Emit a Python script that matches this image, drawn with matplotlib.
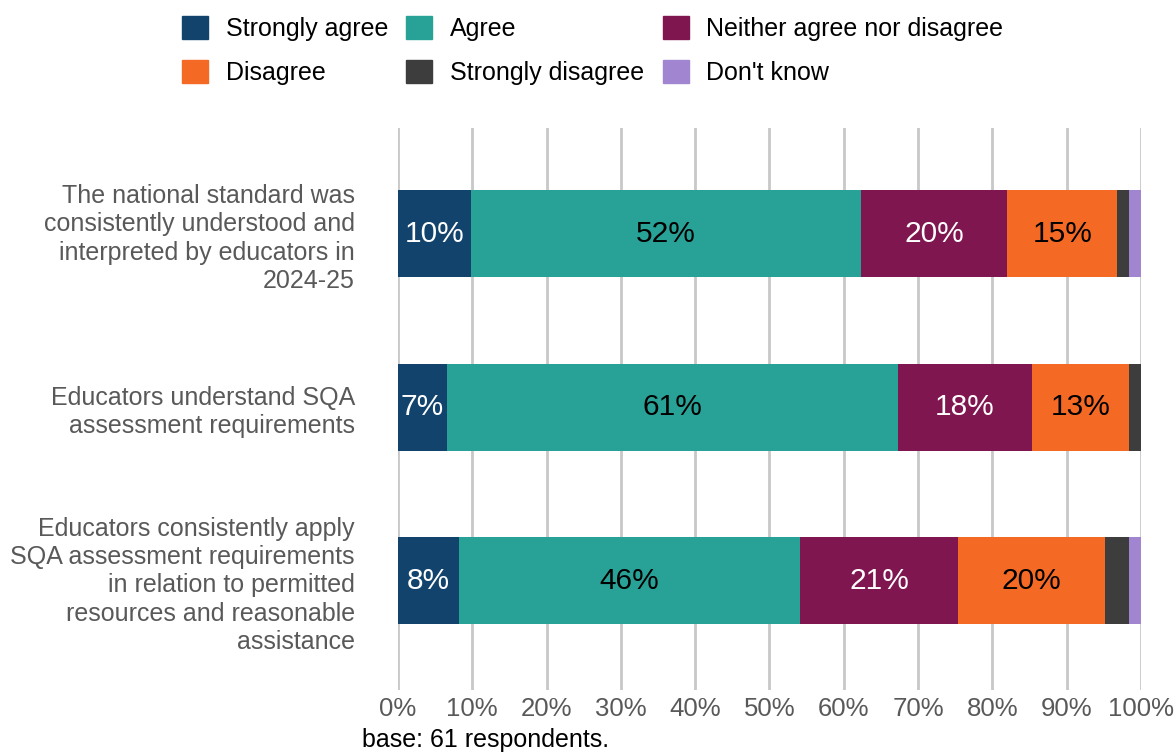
import matplotlib
matplotlib.use("Agg")
import matplotlib.pyplot as plt
import matplotlib.patches as mpatches
import numpy as np

plt.rcParams['font.family'] = ['Liberation Sans', 'DejaVu Sans']

statements = [
    'The national standard was\nconsistently understood and\ninterpreted by educators in\n2024-25',
    'Educators understand SQA\nassessment requirements',
    'Educators consistently apply\nSQA assessment requirements\nin relation to permitted\nresources and reasonable\nassistance',
]
responses = ['Strongly agree', 'Agree', 'Neither agree nor disagree',
             'Disagree', 'Strongly disagree', "Don't know"]
colors = ['#12436D', '#28A197', '#801650', '#F46A25', '#3D3D3D', '#A285D1']
label_colors = ['white', 'black', 'white', 'black', 'white', 'white']

# percentages of 61 respondents, one list per response category
strongly_agree = [9.8, 6.6, 8.2]
agree = [52.5, 60.7, 45.9]
neither = [19.7, 18.0, 21.3]
disagree = [14.8, 13.1, 19.7]
strongly_disagree = [1.6, 1.6, 3.3]
dont_know = [1.6, 0.0, 1.6]
series = [strongly_agree, agree, neither, disagree, strongly_disagree, dont_know]

fig = plt.figure(figsize=(11.76, 7.55), dpi=100)
ax = fig.add_axes([0.3384, 0.0861, 0.6318, 0.7444])

y = np.arange(len(statements))
left = np.zeros(len(statements))
for vals, col, tcol in zip(series, colors, label_colors):
    vals = np.array(vals)
    ax.barh(y, vals, left=left, height=0.5, color=col, zorder=3)
    for yi, v, l in zip(y, vals, left):
        if v >= 5:
            ax.text(l + v / 2, yi, f'{v:.0f}%', ha='center', va='center',
                    fontsize=21.5, color=tcol, zorder=4)
    left += vals

ax.set_xlim(0, 100)
ax.set_ylim(2.63, -0.61)
ax.set_xticks(np.arange(0, 101, 10))
ax.set_xticklabels([f'{t}%' for t in range(0, 101, 10)])
ax.set_yticks(y)
ax.set_yticklabels(statements, linespacing=1.23)
ax.tick_params(axis='both', length=0, colors='#595959')
ax.tick_params(axis='y', pad=31, labelsize=18)
ax.tick_params(axis='x', pad=5, labelsize=18.5)
ax.grid(axis='x', color='#C8C8C8', lw=2, zorder=0)
for s in ax.spines.values():
    s.set_visible(False)

# legend filled row by row
handles = [mpatches.Patch(color=c, label=r) for c, r in zip(colors, responses)]
order = [0, 3, 1, 4, 2, 5]
fig.legend([handles[i] for i in order], [responses[i] for i in order],
           ncol=3, loc='upper left', bbox_to_anchor=(182 / 1176, 1 - 16 / 755),
           frameon=False, fontsize=18, borderpad=0, borderaxespad=0,
           handlelength=1.04, handleheight=1.04, handletextpad=0.72,
           columnspacing=0.72, labelspacing=0.76)

fig.text(362 / 1176, 1 - 740 / 755, 'base: 61 respondents.', fontsize=18,
         color='black', va='center', ha='left')

fig.savefig('out.png', dpi=100)
